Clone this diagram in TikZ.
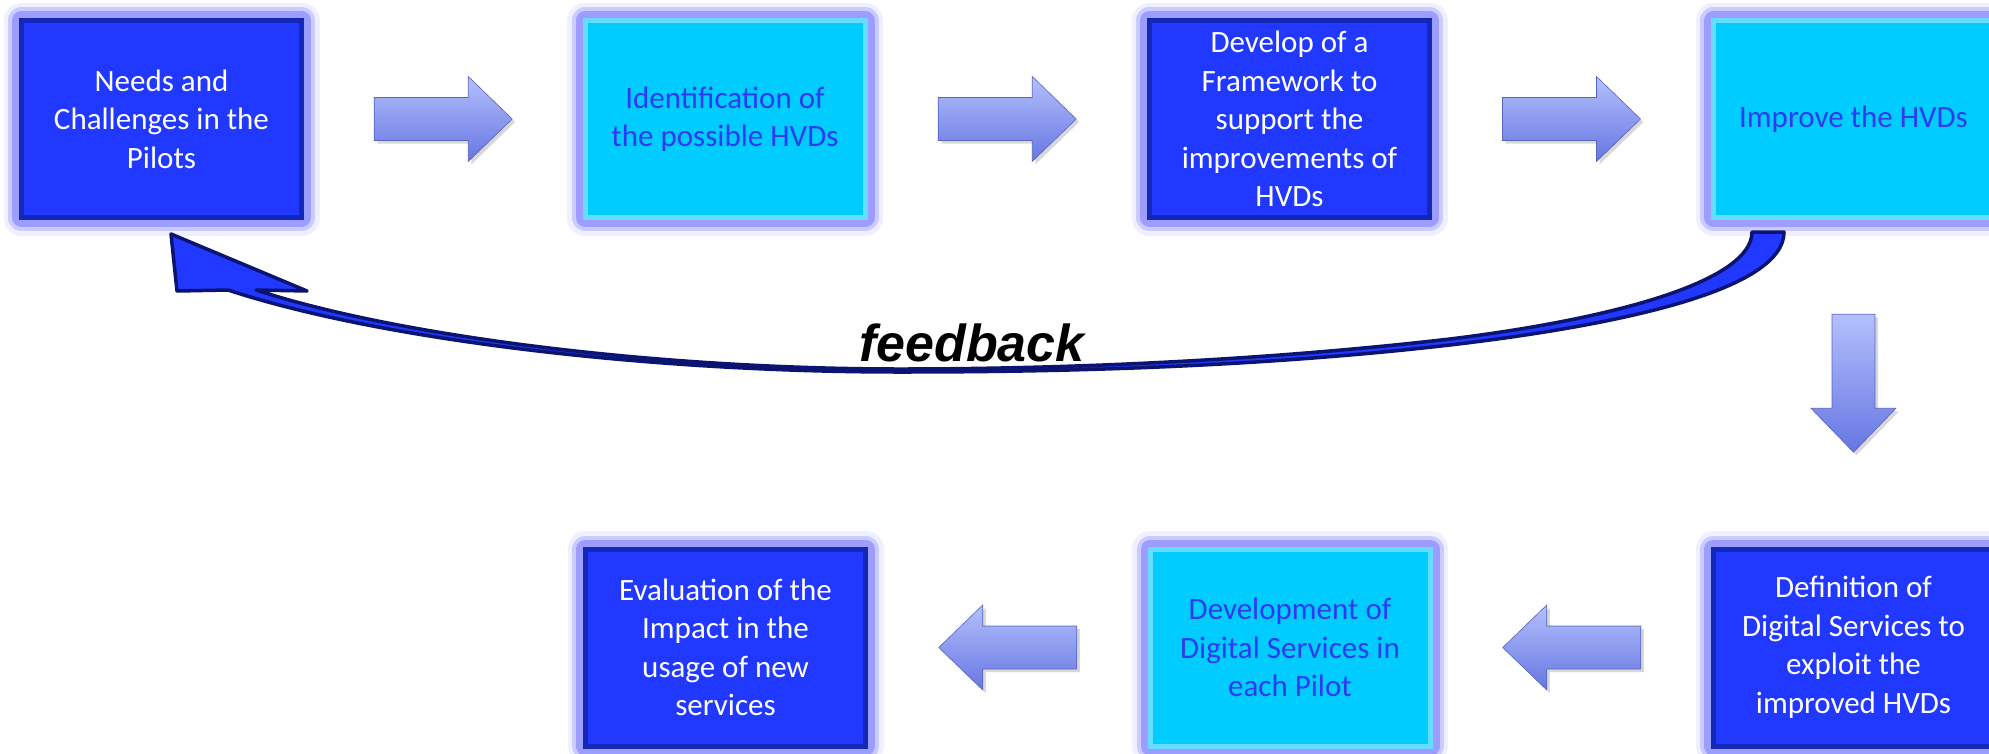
\documentclass[tikz,border=0pt]{standalone}
\usepackage{fontspec}
\setmainfont{Carlito}
\newfontfamily\fbfont{Liberation Sans}
\usepackage{tikz}
\usetikzlibrary{calc,shadows}

\definecolor{boxblue}{HTML}{2038FF}
\definecolor{boxedge}{HTML}{1428B8}
\definecolor{cyanfill}{HTML}{00CCFF}
\definecolor{cyanedge}{HTML}{66DDFF}
\definecolor{cyantext}{HTML}{2E3BF2}
\definecolor{glowc}{HTML}{9496FF}
\definecolor{arrhi}{HTML}{B4C0FD}
\definecolor{arrmid}{HTML}{8798F3}
\definecolor{arrlo}{HTML}{6676E2}
\definecolor{fbfill}{HTML}{2038FF}
\definecolor{fbedge}{HTML}{0B1470}

\begin{document}
\begin{tikzpicture}[x=1pt, y=-1pt,
		glow/.style={preaction={draw=glowc, line width=36pt, opacity=.15, line join=round},
			preaction={draw=glowc, line width=27pt, opacity=.4, line join=round},
			preaction={draw=glowc, line width=19pt, opacity=.85, line join=round}},
		stepbox/.style={glow, rectangle, line width=5pt, minimum width=280pt, minimum height=197pt,
			inner sep=2pt, align=center, font=\fontsize{31}{38.5}\selectfont},
		stepdark/.style={stepbox, fill=boxblue, draw=boxedge, text=white},
		stepcyan/.style={stepbox, fill=cyanfill, draw=cyanedge, text=cyantext},
		blockarr/.style={draw=arrlo!85!black, line width=.6pt, top color=arrhi, middle color=arrmid,
			bottom color=arrlo, drop shadow={shadow xshift=3pt, shadow yshift=-3pt, opacity=.3}}]
			\fill[white] (0,0) rectangle (1989,753);
			\useasboundingbox (0,0) rectangle (1989,753);
			\clip (0,0) rectangle (1989,753);
			\node[stepdark] (needs) at (161.5,119) {Needs and\\Challenges in the\\Pilots};
			\node[stepcyan] (ident) at (725,119) {Identification of\\the possible HVDs};
			\node[stepdark] (frame) at (1289.5,119) {Develop of a\\Framework to\\support the\\improvements of\\HVDs};
			\node[stepcyan] (improve) at (1853.5,119) {Improve the HVDs};
			\node[stepdark] (defin) at (1853.5,647.5) {Definition of\\Digital Services to\\exploit the\\improved HVDs};
			\node[stepcyan] (devel) at (1290,647.5) {Development of\\Digital Services in\\each Pilot};
			\node[stepdark] (evalu) at (725.5,647.5) {Evaluation of the\\Impact in the\\usage of new\\services};
			\foreach \a/\b/\r in {needs/ident/0, ident/frame/0, frame/improve/0, improve/defin/-90, defin/devel/180, devel/evalu/180}
				\draw[blockarr, shift={($(\a)!.5!(\b)$)}, rotate=\r] (-69,-21.5) -- (25,-21.5) -- (25,-42.5) -- (69,0) -- (25,42.5) -- (25,21.5) -- (-69,21.5) -- cycle;
			\draw[fill=fbfill, draw=fbedge, line width=3.5pt, line join=round]
				(1784,232) .. controls (1784,290) and (1620,325) .. (1450,345)
				.. controls (1250,368) and (1050,372) .. (900,372)
				.. controls (650,372) and (380,340) .. (228,290)
				-- (177,291) -- (171,234) -- (307,291) -- (256,290)
				.. controls (400,337) and (660,369) .. (900,369)
				.. controls (1050,369) and (1250,362) .. (1450,339)
				.. controls (1620,318) and (1752,280) .. (1752,232) -- cycle;
			\node[anchor=base, inner sep=0pt, font=\fbfont\bfseries\itshape\fontsize{52}{60}\selectfont] (fbtext) at (972,361) {feedback};
		\end{tikzpicture}
\end{document}
